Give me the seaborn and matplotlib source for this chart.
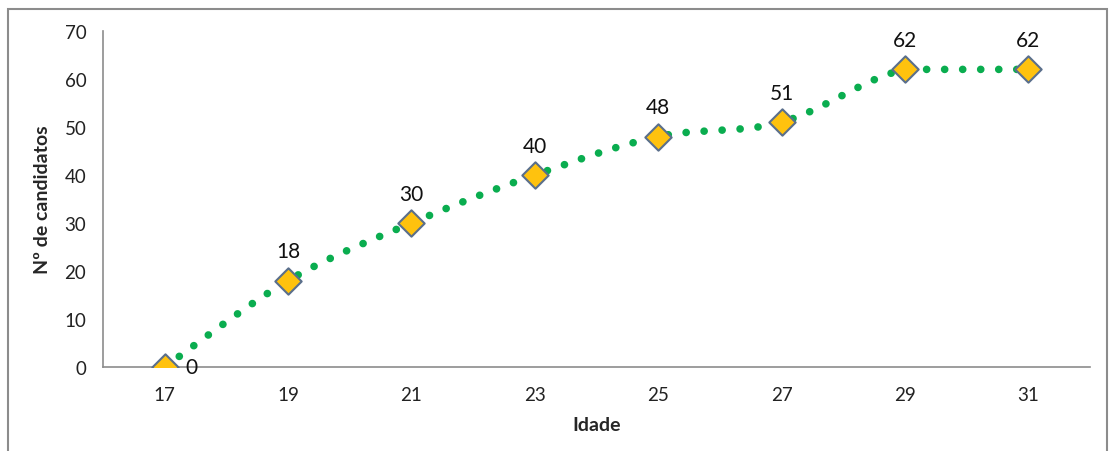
import numpy as np
import matplotlib
matplotlib.use("Agg")
import matplotlib.pyplot as plt
import seaborn as sns
from matplotlib.patches import Rectangle

# data
idades = ["17", "19", "21", "23", "25", "27", "29", "31"]
candidatos = [0, 18, 30, 40, 48, 51, 62, 62]

sns.set_style("white")
plt.rcParams["font.family"] = ["Lato", "DejaVu Sans"]

fig = plt.figure(figsize=(11.09, 4.52), dpi=100)
ax = fig.add_axes([103 / 1109, 1 - 368 / 452, (1090 - 103) / 1109, (368 - 32) / 452])

# outer chart border (like an Excel chart area)
fig.patches.append(Rectangle((8 / 1109, -0.05), 1099 / 1109, 1.05 - 10 / 452,
                             transform=fig.transFigure, fill=False,
                             edgecolor="#8c8c8c", linewidth=1.5))

xs = np.arange(len(idades))
ys = np.array(candidatos, dtype=float)

# smoothed line (bezier like Excel "smoothed line"), no overshoot
P = np.column_stack([xs, ys])
Pext = np.vstack([P[0], P, P[-1]])
curve = []
t = np.linspace(0, 1, 40)[:, None]
for i in range(len(P) - 1):
    p0, p1, p2, p3 = Pext[i], Pext[i + 1], Pext[i + 2], Pext[i + 3]
    b1 = p1 + (p2 - p0) / 6
    b2 = p2 - (p3 - p1) / 6
    seg = ((1 - t) ** 3) * p1 + 3 * ((1 - t) ** 2) * t * b1 + 3 * (1 - t) * t ** 2 * b2 + t ** 3 * p2
    seg[:, 1] = np.clip(seg[:, 1], min(p1[1], p2[1]), max(p1[1], p2[1]))
    curve.append(seg)
curve = np.vstack(curve)
ax.plot(curve[:, 0], curve[:, 1], color="#0aad4f", linewidth=5.5,
        linestyle=(0, (0.01, 2.35)), dash_capstyle="round", zorder=2)

sns.scatterplot(x=xs, y=ys, marker="D", s=180, color="#ffc20e",
                edgecolor="#5a6f8c", linewidth=1.5, ax=ax, zorder=3)

for i, v in enumerate(candidatos):
    if i == 0:
        ax.text(xs[i] + 0.17, v, str(v), fontsize=15, ha="left", va="center", color="#111111")
    else:
        ax.text(xs[i], v + 4.0, str(v), fontsize=15, ha="center", va="bottom", color="#111111")

ax.set_xlim(-0.5, len(idades) - 0.5)
ax.set_ylim(0, 70)
ax.set_xticks(xs)
ax.set_xticklabels(idades)
ax.set_yticks(range(0, 71, 10))
ax.tick_params(axis="y", length=5, color="#8c8c8c", labelsize=13.5, labelcolor="#222222", pad=7)
ax.tick_params(axis="x", length=0, labelsize=13.5, labelcolor="#222222", pad=14)
ax.set_xlabel("Idade", fontsize=14, fontweight="bold", labelpad=9)
ax.set_ylabel("Nº de candidatos", fontsize=14, fontweight="bold", labelpad=10)

for s in ["top", "right"]:
    ax.spines[s].set_visible(False)
for s in ["left", "bottom"]:
    ax.spines[s].set_color("#8c8c8c")
    ax.spines[s].set_linewidth(1.2)

fig.savefig("out.png", dpi=100)
